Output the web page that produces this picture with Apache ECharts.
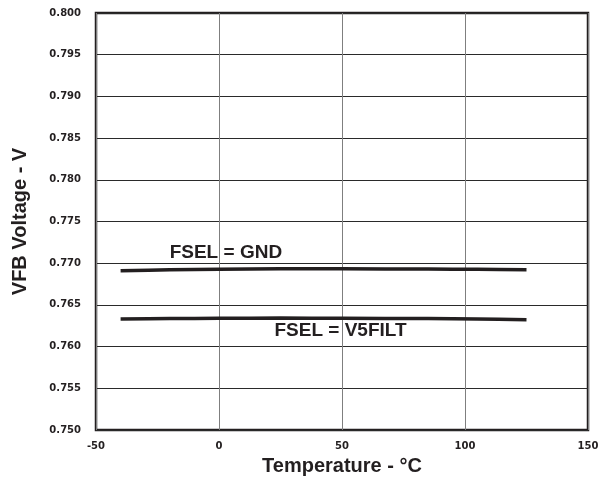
<!DOCTYPE html>
<html>
<head>
<meta charset="utf-8">
<script src="https://cdn.jsdelivr.net/npm/echarts@6/dist/echarts.min.js"></script>
<style>
  html, body { margin: 0; padding: 0; background: #fff; }
  #chart { width: 600px; height: 482px; }
</style>
</head>
<body>
<div id="chart"></div>
<script>
// Feedback voltage vs. temperature for the two FSEL settings
const temperatures = [-40, -20, 0, 25, 50, 85, 105, 125];
const vfbGnd     = [0.76910, 0.76920, 0.76928, 0.76932, 0.76932, 0.76930, 0.76926, 0.76920];
const vfbV5filt  = [0.76330, 0.76336, 0.76340, 0.76342, 0.76340, 0.76336, 0.76330, 0.76322];
const seriesNames = ['FSEL = GND', 'FSEL = V5FILT'];
// where each curve's caption sits, in axis units [°C, V]
const captionAnchors = [[2.8, 0.77125], [49.4, 0.76185]];

const ink = '#231f20';
const titleFont = '"Liberation Sans", Arial, sans-serif';
const tickFont = '"DejaVu Sans", sans-serif';

function pairs(xs, ys) { return xs.map((x, i) => [x, ys[i]]); }

function curve(name, values, anchor) {
  return {
    name: name,
    type: 'line',
    data: pairs(temperatures, values),
    smooth: 0.3,
    symbol: 'none',
    lineStyle: { color: ink, width: 3.5 },
    z: 5,
    markPoint: {
      symbol: 'rect',
      symbolSize: 1,
      itemStyle: { color: 'rgba(0,0,0,0)' },
      label: {
        show: true,
        position: 'inside',
        formatter: name,
        color: ink,
        fontFamily: titleFont,
        fontWeight: 'bold',
        fontSize: 19
      },
      data: [{ coord: anchor }]
    }
  };
}

const chart = echarts.init(document.getElementById('chart'), null, { renderer: 'canvas' });
chart.setOption({
  animation: false,
  backgroundColor: '#ffffff',
  grid: {
    left: 96, right: 12, top: 13, bottom: 52,
    containLabel: false,
    outerBoundsMode: 'none',
    show: true,
    borderColor: ink,
    borderWidth: 2.5,
    backgroundColor: 'transparent'
  },
  xAxis: {
    type: 'value',
    min: -50, max: 150, interval: 50,
    name: 'Temperature - °C',
    nameLocation: 'middle',
    nameGap: 26,
    nameTextStyle: { color: ink, fontFamily: titleFont, fontWeight: 'bold', fontSize: 20 },
    axisLine: { show: false },
    axisTick: { show: false },
    axisLabel: { color: ink, fontFamily: tickFont, fontWeight: 'bold', fontSize: 10, margin: 11 },
    splitLine: { show: true, lineStyle: { color: '#7f7f7f', width: 1 } }
  },
  yAxis: {
    type: 'value',
    min: 0.75, max: 0.8, interval: 0.005,
    name: 'VFB Voltage - V',
    nameLocation: 'middle',
    nameGap: 66,
    nameTextStyle: { color: ink, fontFamily: titleFont, fontWeight: 'bold', fontSize: 20 },
    axisLine: { show: false },
    axisTick: { show: false },
    axisLabel: {
      color: ink, fontFamily: tickFont, fontWeight: 'bold', fontSize: 10, margin: 15,
      formatter: v => v.toFixed(3)
    },
    splitLine: { show: true, lineStyle: { color: '#2a2a2a', width: 1 } }
  },
  series: [
    curve(seriesNames[0], vfbGnd, captionAnchors[0]),
    curve(seriesNames[1], vfbV5filt, captionAnchors[1])
  ]
});
</script>
</body>
</html>
